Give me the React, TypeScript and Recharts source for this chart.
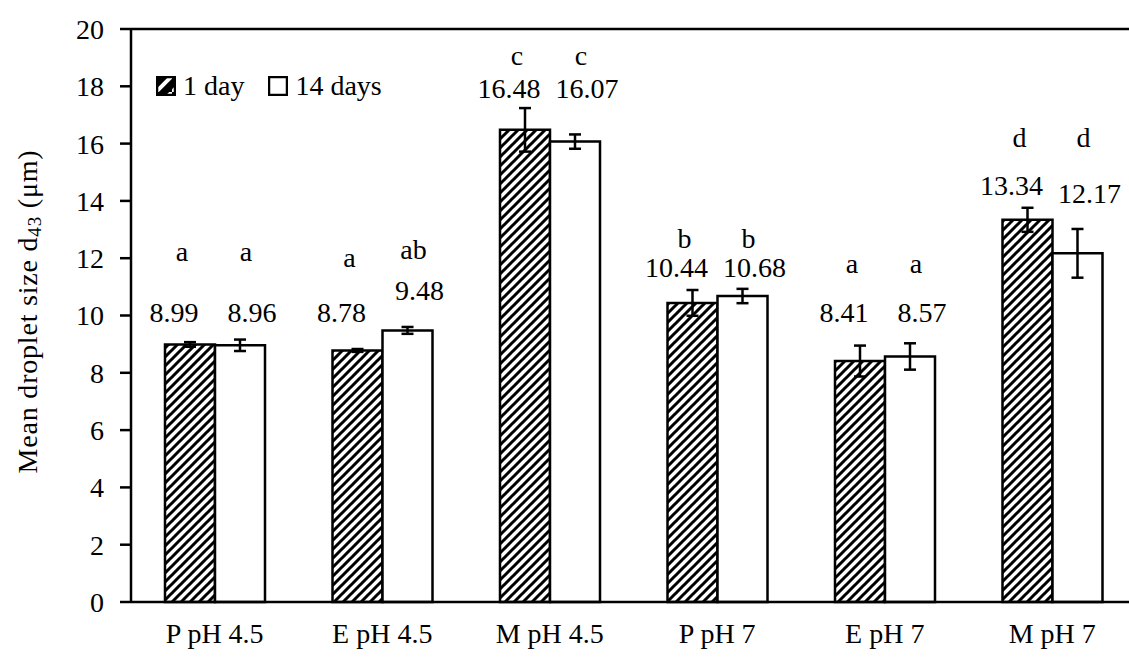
import React from 'react';
import {
  Bar,
  BarChart,
  ErrorBar,
  LabelList,
  ReferenceLine,
  XAxis,
  YAxis,
} from 'recharts';

const categories = ['P pH 4.5', 'E pH 4.5', 'M pH 4.5', 'P pH 7', 'E pH 7', 'M pH 7'];
const day1 = [8.99, 8.78, 16.48, 10.44, 8.41, 13.34];
const day14 = [8.96, 9.48, 16.07, 10.68, 8.57, 12.17];
const err1 = [0.08, 0.05, 0.76, 0.45, 0.54, 0.42];
const err14 = [0.2, 0.12, 0.25, 0.25, 0.46, 0.85];
const letters1 = ['a', 'a', 'c', 'b', 'a', 'd'];
const letters14 = ['a', 'ab', 'c', 'b', 'a', 'd'];
// heights (in axis units) where the annotations sit
const valueAt1 = [10.09, 10.09, 17.94, 11.66, 10.12, 14.55];
const valueAt14 = [10.09, 10.89, 17.94, 11.66, 10.12, 14.27];
const letterAt1 = [12.22, 12.04, 19.09, 12.68, 11.83, 16.23];
const letterAt14 = [12.22, 12.29, 19.09, 12.68, 11.83, 16.23];
const yTicks = [0, 2, 4, 6, 8, 10, 12, 14, 16, 18, 20];

const data = categories.map((name, i) => ({
  name,
  d1: day1[i],
  d14: day14[i],
  e1: err1[i],
  e14: err14[i],
}));

const FONT = "'Palatino Linotype', 'Book Antiqua', Palatino, 'Liberation Serif', serif";
const FS = 28;

function makeLabel(
  values: number[],
  valueAt: number[],
  letters: string[],
  letterAt: number[],
  shift: number
) {
  return (props: any) => {
    const { x, y, width, height, index } = props;
    const v = values[index];
    const base = Number(y) + Number(height);
    const perUnit = Number(height) / v;
    const cx = Number(x) + Number(width) / 2;
    return (
      <g>
        <text
          x={cx + shift}
          y={base - valueAt[index] * perUnit}
          textAnchor="middle"
          dominantBaseline="central"
          fontFamily={FONT}
          fontSize={FS}
          fill="#000"
        >
          {v.toFixed(2)}
        </text>
        <text
          x={cx + shift / 2}
          y={base - letterAt[index] * perUnit}
          textAnchor="middle"
          dominantBaseline="central"
          fontFamily={FONT}
          fontSize={FS}
          fill="#000"
        >
          {letters[index]}
        </text>
      </g>
    );
  };
}

const YTitle = (props: any) => {
  const vb = props.viewBox || { x: 0, y: 0, width: 0, height: 0 };
  const cy = vb.y + vb.height / 2 - 4;
  const cx = 27;
  return (
    <text
      x={cx}
      y={cy}
      transform={`rotate(-90, ${cx}, ${cy})`}
      textAnchor="middle"
      dominantBaseline="central"
      fontFamily={FONT}
      fontSize={FS}
      letterSpacing={0.8}
      fill="#000"
    >
      Mean droplet size d
      <tspan dy={7} fontSize={19}>43</tspan>
      <tspan dy={-7}> (μm)</tspan>
    </text>
  );
};

const Swatch = ({ hatched }: { hatched: boolean }) => (
  <svg width={20} height={20} style={{ display: 'block' }}>
    <defs>
      <pattern id="hatchLegend" patternUnits="userSpaceOnUse" width={16} height={16}>
        <rect width={16} height={16} fill="#000" />
        <path d="M0,16 L16,0" stroke="#fff" strokeWidth={4} />
      </pattern>
    </defs>
    <rect x={1} y={1} width={18} height={18} fill={hatched ? 'url(#hatchLegend)' : '#fff'} stroke="#000" strokeWidth={2.5} />
  </svg>
);

const LegendBox = () => (
  <div
    style={{
      position: 'absolute',
      left: 156,
      top: 72,
      display: 'flex',
      alignItems: 'center',
      fontFamily: FONT,
      fontSize: FS,
      lineHeight: '28px',
      color: '#000',
    }}
  >
    <Swatch hatched />
    <span style={{ marginLeft: 7, marginRight: 24 }}>1 day</span>
    <Swatch hatched={false} />
    <span style={{ marginLeft: 7 }}>14 days</span>
  </div>
);

export default function App() {
  return (
    <div style={{ position: 'absolute', left: 0, top: 0, width: 1129, height: 659, overflow: 'hidden', background: '#fff' }}>
      <BarChart
        width={1139}
        height={659}
        data={data}
        margin={{ top: 29, right: 3, bottom: 0, left: 0 }}
        barGap={0}
        barSize={50}
      >
        <defs>
          <pattern id="hatch" patternUnits="userSpaceOnUse" width={9} height={9}>
            <rect width={9} height={9} fill="#fff" />
            <path d="M-2,2 L2,-2 M0,9 L9,0 M7,11 L11,7" stroke="#000" strokeWidth={3} />
          </pattern>
        </defs>
        <ReferenceLine y={20} stroke="#000" strokeWidth={2.5} />
        <XAxis
          dataKey="name"
          height={57}
          tickSize={0}
          tickMargin={21}
          axisLine={{ stroke: '#000', strokeWidth: 2.5 }}
          tick={{ fontFamily: FONT, fontSize: FS, fill: '#000' }}
          interval={0}
        />
        <YAxis
          width={131}
          domain={[0, 20]}
          ticks={yTicks}
          tickSize={11}
          tickMargin={16}
          interval={0}
          axisLine={{ stroke: '#000', strokeWidth: 2.5 }}
          tickLine={{ stroke: '#000', strokeWidth: 2.5 }}
          tick={{ fontFamily: FONT, fontSize: FS, fill: '#000' }}
          label={{ content: <YTitle /> }}
        />
        <Bar dataKey="d1" name="1 day" fill="url(#hatch)" stroke="#000" strokeWidth={2.5} isAnimationActive={false}>
          <ErrorBar dataKey="e1" width={6} stroke="#000" strokeWidth={2.5} direction="y" />
          <LabelList dataKey="d1" content={makeLabel(day1, valueAt1, letters1, letterAt1, -16)} />
        </Bar>
        <Bar dataKey="d14" name="14 days" fill="#fff" stroke="#000" strokeWidth={2.5} isAnimationActive={false}>
          <ErrorBar dataKey="e14" width={6} stroke="#000" strokeWidth={2.5} direction="y" />
          <LabelList dataKey="d14" content={makeLabel(day14, valueAt14, letters14, letterAt14, 12)} />
        </Bar>
      </BarChart>
      <LegendBox />
    </div>
  );
}
